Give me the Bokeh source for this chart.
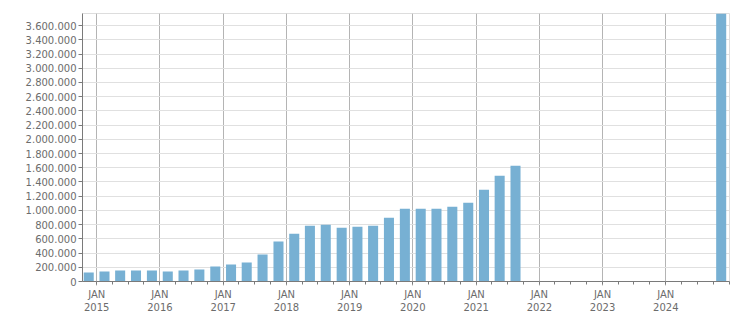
from datetime import datetime, timezone
from bokeh.plotting import figure
from bokeh.models import FixedTicker, Range1d, ColumnDataSource
from bokeh.embed import file_html
from bokeh.resources import INLINE

# ---- data ----
quarters = [
    "2014-Q4",
    "2015-Q1", "2015-Q2", "2015-Q3", "2015-Q4",
    "2016-Q1", "2016-Q2", "2016-Q3", "2016-Q4",
    "2017-Q1", "2017-Q2", "2017-Q3", "2017-Q4",
    "2018-Q1", "2018-Q2", "2018-Q3", "2018-Q4",
    "2019-Q1", "2019-Q2", "2019-Q3", "2019-Q4",
    "2020-Q1", "2020-Q2", "2020-Q3", "2020-Q4",
    "2021-Q1", "2021-Q2", "2021-Q3",
    "2024-Q4",
]
values = [
    125000,
    140000, 154000, 154000, 154000,
    140000, 154000, 168000, 210000,
    238000, 266000, 379000, 561000,
    673000, 785000, 800000, 757000,
    771000, 785000, 898000, 1024000,
    1024000, 1024000, 1052000, 1108000,
    1290000, 1487000, 1627000,
    3770000,
]
years = list(range(2015, 2025))
month_label = "JAN"
y_ticks = list(range(0, 3600001, 200000))


def ms(y, m, d=1):
    return datetime(y, m, d, tzinfo=timezone.utc).timestamp() * 1000.0


def quarter_mid(q):
    y, qq = q.split("-Q")
    y, qq = int(y), int(qq)
    sm = 3 * (qq - 1) + 1
    start = ms(y, sm)
    end = ms(y + 1, 1) if qq == 4 else ms(y, sm + 3)
    return (start + end) / 2


xs = [quarter_mid(q) for q in quarters]
src = ColumnDataSource(dict(x=xs, top=values))

DAY = 86400000.0
p = figure(frame_width=647, frame_height=268, output_backend="svg", toolbar_location=None,
           x_range=Range1d(ms(2014, 10, 11), ms(2025, 1, 3)),
           y_range=Range1d(0, 3770000),
           min_border_left=82, min_border_right=22, min_border_top=13,
           min_border_bottom=30)
p.background_fill_color = "white"
p.border_fill_color = "white"
p.outline_line_color = "#dddddd"

p.vbar(x="x", top="top", width=58 * DAY, bottom=0, source=src,
       fill_color="#77b0d3", line_color=None)

font = "DejaVu Sans"
tc = "#6c6c6c"

# x axis
major_x = [ms(y, 1) for y in years]
minor_x = []
for y in range(2014, 2026):
    for m in (1, 4, 7, 10):
        minor_x.append(ms(y, m))
p.xaxis.ticker = FixedTicker(ticks=major_x, minor_ticks=minor_x)
p.xaxis.major_label_overrides = {t: f"{month_label}\n{y}" for t, y in zip(major_x, years)}
p.xaxis.axis_line_color = "#7a7a7a"
p.xaxis.major_tick_line_color = "#b4b4b4"
p.xaxis.major_tick_out = 4
p.xaxis.major_tick_in = 0
p.xaxis.minor_tick_line_color = "#7a7a7a"
p.xaxis.minor_tick_out = 3
p.xaxis.minor_tick_in = 0
p.xaxis.major_label_standoff = 3
p.xaxis.major_label_text_font = font
p.xaxis.major_label_text_font_size = "10px"
p.xaxis.major_label_text_color = tc

# y axis
p.yaxis.ticker = FixedTicker(ticks=y_ticks)
p.yaxis.major_label_overrides = {t: f"{t:,}".replace(",", ".") for t in y_ticks}
p.yaxis.axis_line_color = "#7a7a7a"
p.yaxis.major_tick_line_color = "#7a7a7a"
p.yaxis.major_tick_out = 4
p.yaxis.major_tick_in = 0
p.yaxis.minor_tick_line_color = None
p.yaxis.major_label_standoff = 2
p.yaxis.major_label_text_font = font
p.yaxis.major_label_text_font_size = "10px"
p.yaxis.major_label_text_color = tc

p.xgrid.grid_line_color = "#b4b4b4"
p.ygrid.grid_line_color = "#e0e0e0"

open("out.html", "w").write(file_html(p, INLINE))
